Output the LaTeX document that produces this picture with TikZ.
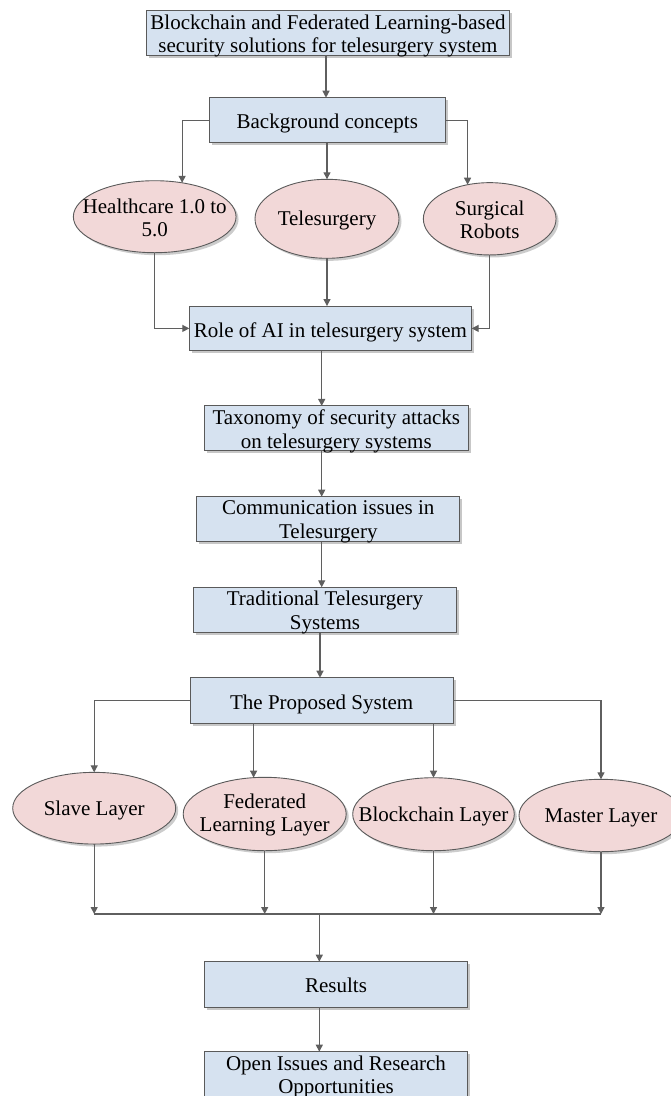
\documentclass[tikz,border=0pt]{standalone}
\usepackage{fontspec}
\setmainfont{Liberation Serif}
\usetikzlibrary{arrows.meta,shapes.geometric,shadows}
\definecolor{boxfill}{RGB}{214,226,240}
\definecolor{ellfill}{RGB}{242,216,216}
\definecolor{edge}{RGB}{90,90,90}
\definecolor{conn}{RGB}{95,95,95}
\tikzset{
  txt/.style={font=\fontsize{21pt}{23.3pt}\selectfont, align=center, text=black, inner sep=0pt},
  boxnode/.style={rectangle, draw=edge, line width=1pt, fill=boxfill,
    inner sep=0pt, outer sep=0pt,
    drop shadow={shadow xshift=2.5pt, shadow yshift=-2.5pt, fill=black!22, opacity=1}},
  ellnode/.style={ellipse, draw=edge, line width=0.9pt, fill=ellfill,
    inner sep=0pt, outer sep=0pt,
    drop shadow={shadow xshift=2.5pt, shadow yshift=-2.5pt, fill=black!20, opacity=1}},
  arr/.style={draw=conn, line width=1.2pt, -{Triangle[length=7pt,width=7pt]}},
  plain/.style={draw=conn, line width=1.2pt}
}
\begin{document}
\begin{tikzpicture}[x=1pt,y=-1pt]
\path[use as bounding box] (0,0) rectangle (670,1096);

% boxes
\node[boxnode, minimum width=362.6pt, minimum height=45pt] (title) at (328,32.5) {};
\node[boxnode, minimum width=236pt, minimum height=45pt] (bg) at (327.3,120.2) {};
\node[boxnode, minimum width=282.4pt, minimum height=44.7pt] (role) at (330.5,328.4) {};
\node[boxnode, minimum width=264pt, minimum height=44.7pt] (tax) at (336.3,428.3) {};
\node[boxnode, minimum width=263.3pt, minimum height=45pt] (comm) at (328.3,519.2) {};
\node[boxnode, minimum width=263.4pt, minimum height=45.4pt] (trad) at (325,610) {};
\node[boxnode, minimum width=263.3pt, minimum height=45.6pt] (prop) at (321.7,700.5) {};
\node[boxnode, minimum width=263.4pt, minimum height=45.6pt] (res) at (336,984.5) {};
\node[boxnode, minimum width=263.4pt, minimum height=46pt] (open) at (336,1074.7) {};

\node[txt] (title-t) at ([yshift=-3.5pt]title.center)
  {Blockchain and Federated Learning-based\\security solutions for telesurgery system};
\node[txt] (bg-t) at ([yshift=-3.5pt]bg.center) {Background concepts};
\node[txt] (role-t) at ([yshift=-3.5pt]role.center) {Role of AI in telesurgery system};
\node[txt] (tax-t) at ([yshift=-3pt]tax.center) {Taxonomy of security attacks\\on telesurgery systems};
\node[txt] (comm-t) at ([yshift=-2.5pt]comm.center) {Communication issues in\\Telesurgery};
\node[txt] (trad-t) at ([yshift=-2.5pt]trad.center) {Traditional Telesurgery\\Systems};
\node[txt] (prop-t) at ([yshift=-3.5pt]prop.center) {The Proposed System};
\node[txt] (res-t) at ([yshift=-1pt]res.center) {Results};
\node[txt] (open-t) at ([yshift=-2pt]open.center) {Open Issues and Research\\Opportunities};

% ellipses
\node[ellnode, minimum width=162.7pt, minimum height=72pt] (health) at (154.7,216.7) {};
\node[ellnode, minimum width=144pt, minimum height=79pt] (tele) at (327,218.8) {};
\node[ellnode, minimum width=132.7pt, minimum height=72.3pt] (surg) at (489.7,218.8) {};
\node[ellnode, minimum width=163pt, minimum height=71.7pt] (slave) at (94.2,808.2) {};
\node[ellnode, minimum width=163pt, minimum height=73.4pt] (fed) at (264.7,814) {};
\node[ellnode, minimum width=161.6pt, minimum height=73pt] (block) at (433.5,814.2) {};
\node[ellnode, minimum width=164pt, minimum height=72.4pt] (master) at (601,815.5) {};

\node[txt] (health-t) at ([yshift=-1pt]health.center) {Healthcare 1.0 to\\5.0};
\node[txt] (tele-t) at ([yshift=-2pt]tele.center) {Telesurgery};
\node[txt] (surg-t) at ([yshift=-1pt]surg.center) {Surgical\\Robots};
\node[txt] (slave-t) at ([yshift=-2pt]slave.center) {Slave Layer};
\node[txt] (fed-t) at ([yshift=-1pt]fed.center) {Federated\\Learning Layer};
\node[txt] (block-t) at ([yshift=-2pt]block.center) {Blockchain Layer};
\node[txt] (master-t) at ([yshift=-2pt]master.center) {Master Layer};

% spine coordinates
\coordinate (spA) at (326,0);
\coordinate (spB) at (321.7,0);
\coordinate (spC) at (320,0);
\coordinate (spD) at (319.3,0);
\coordinate (bus) at (0,914);

% connectors
\draw[arr] (spA |- title.south) -- (spA |- bg.north);
\draw[arr] (bg.west) -| (health.51);
\draw[arr] (bg.south -| tele.north) -- (tele.north);
\draw[arr] (bg.east) -| (surg.123);
\draw[arr] (health.south) |- (role.west);
\draw[arr] (tele.south) -- (tele.south |- role.north);
\draw[arr] (surg.south) |- (role.east);
\draw[arr] (spB |- role.south) -- (spB |- tax.north);
\draw[arr] (spB |- tax.south) -- (spB |- comm.north);
\draw[arr] (spB |- comm.south) -- (spB |- trad.north);
\draw[arr] (spC |- trad.south) -- (spC |- prop.north);
\draw[arr] (prop.west) -| (slave.north);
\draw[arr] (prop.south -| fed.107) -- (fed.107);
\draw[arr] (prop.south -| block.north) -- (block.north);
\draw[arr] (prop.east) -| (master.north);
\draw[arr] (slave.south) -- (slave.south |- bus);
\draw[arr] (fed.south) -- (fed.south |- bus);
\draw[arr] (block.south) -- (block.south |- bus);
\draw[arr] (master.south) -- (master.south |- bus);
\draw[plain] (slave.south |- bus) -- (master.south |- bus);
\draw[arr] (spD |- bus) -- (spD |- res.north);
\draw[arr] (spD |- res.south) -- (spD |- open.north);
\end{tikzpicture}
\end{document}
